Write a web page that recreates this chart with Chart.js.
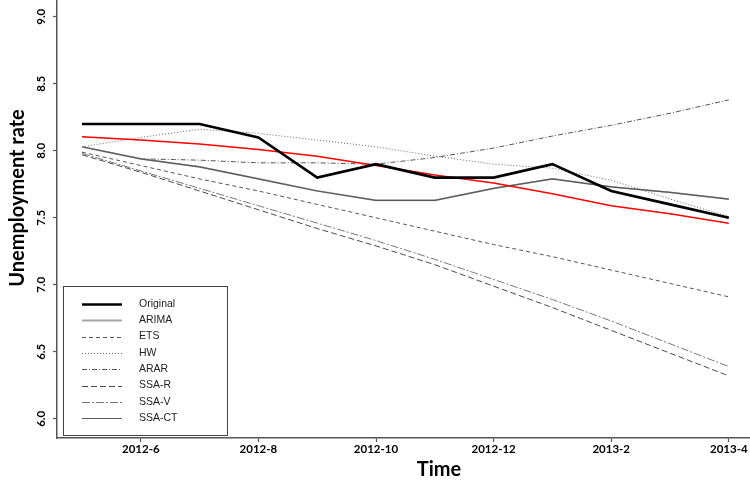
<!DOCTYPE html>
<html>
<head>
<meta charset="utf-8">
<script src="https://cdn.jsdelivr.net/npm/chart.js@4/dist/chart.umd.min.js"></script>
<style>
  body { margin: 0; background: #fff; }
  canvas { display: block; }
</style>
</head>
<body>
<canvas id="chart" width="750" height="485"></canvas>
<script>
// months from 2012-5 to 2013-4
const months = ['2012-5', '2012-6', '2012-7', '2012-8', '2012-9', '2012-10',
  '2012-11', '2012-12', '2013-1', '2013-2', '2013-3', '2013-4']
const xTickIdx = [1, 3, 5, 7, 9, 11]
const yTicks = [6.0, 6.5, 7.0, 7.5, 8.0, 8.5, 9.0]

const original = [8.2, 8.2, 8.2, 8.1, 7.8, 7.9, 7.8, 7.8, 7.9, 7.7, 7.6, 7.5]
const arima = [8.03, 7.94, 7.88, 7.79, 7.70, 7.63, 7.63, 7.72, 7.79, 7.73, 7.69, 7.64]
const ets = [7.99, 7.89, 7.79, 7.70, 7.60, 7.50, 7.40, 7.30, 7.21, 7.11, 7.01, 6.91]
const hw = [8.03, 8.10, 8.16, 8.13, 8.08, 8.03, 7.96, 7.90, 7.87, 7.78, 7.64, 7.51]
const arar = [8.03, 7.94, 7.93, 7.91, 7.91, 7.90, 7.95, 8.02, 8.11, 8.19, 8.28, 8.38]
const ssaR = [7.97, 7.84, 7.70, 7.56, 7.42, 7.29, 7.15, 6.99, 6.83, 6.66, 6.49, 6.32]
const ssaV = [7.98, 7.85, 7.72, 7.59, 7.46, 7.33, 7.19, 7.04, 6.89, 6.73, 6.56, 6.39]
const ssaCT = [8.03, 7.94, 7.88, 7.79, 7.70, 7.63, 7.63, 7.72, 7.79, 7.73, 7.69, 7.64]
const fitted = [8.105, 8.08, 8.05, 8.01, 7.96, 7.89, 7.82, 7.76, 7.68, 7.59, 7.53, 7.46]

const pts = (arr) => arr.map((v, i) => ({ x: i, y: v }))

const series = (label, data, color, width, dash, inLegend = true) => ({
  label: label,
  data: pts(data),
  borderColor: color,
  backgroundColor: color,
  borderWidth: width,
  borderDash: dash,
  pointRadius: 0,
  tension: 0,
  fill: false,
  inLegend: inLegend
})

// first dataset is drawn on top
const datasets = [
  series('Original', original, '#000000', 2.6, []),
  series('Fitted', fitted, '#ff0000', 1.5, [], false),
  series('SSA-CT', ssaCT, '#5a5a5a', 1.2, []),
  series('ARIMA', arima, '#a8a8a8', 1.8, []),
  series('ETS', ets, '#555555', 1, [4, 3]),
  series('HW', hw, '#666666', 1, [1, 2]),
  series('ARAR', arar, '#555555', 1, [5, 2, 1, 2]),
  series('SSA-R', ssaR, '#4a4a4a', 1, [6, 3]),
  series('SSA-V', ssaV, '#777777', 1, [8, 2, 2, 2])
]

const legendOrder = ['Original', 'ARIMA', 'ETS', 'HW', 'ARAR', 'SSA-R', 'SSA-V', 'SSA-CT']

const extras = {
  id: 'extras',
  afterDraw(chart) {
    const ctx = chart.ctx
    const ys = chart.scales.y
    ctx.save()
    ctx.fillStyle = '#000'

    // y tick labels, rotated like R's default
    ctx.font = 'bold 11.5px Lato'
    ctx.textAlign = 'center'
    ctx.textBaseline = 'middle'
    yTicks.forEach(v => {
      ctx.save()
      ctx.translate(41, ys.getPixelForValue(v))
      ctx.rotate(-Math.PI / 2)
      ctx.fillText(v.toFixed(1), 0, 0)
      ctx.restore()
    })

    // axis titles
    ctx.font = 'bold 20px Lato'
    ctx.save()
    ctx.translate(18, 198)
    ctx.rotate(-Math.PI / 2)
    ctx.fillText('Unemployment rate', 0, 0)
    ctx.restore()
    ctx.fillText('Time', 439, 470)

    // legend box
    ctx.strokeStyle = '#444'
    ctx.lineWidth = 1
    ctx.strokeRect(63.5, 286.5, 164, 149)
    ctx.font = '10.5px "Liberation Sans"'
    ctx.textAlign = 'left'
    ctx.fillStyle = '#222'
    legendOrder.forEach((name, i) => {
      const ds = chart.data.datasets.find(d => d.label === name)
      const y = 304 + i * 16.3
      ctx.beginPath()
      ctx.strokeStyle = ds.borderColor
      ctx.lineWidth = ds.borderWidth
      ctx.setLineDash(ds.borderDash)
      ctx.moveTo(82, Math.round(y) + 0.5)
      ctx.lineTo(122, Math.round(y) + 0.5)
      ctx.stroke()
      ctx.setLineDash([])
      ctx.fillText(name, 139, y)
    })
    ctx.restore()
  }
}

new Chart(document.getElementById('chart'), {
  type: 'line',
  data: { datasets: datasets },
  options: {
    responsive: false,
    animation: false,
    layout: { padding: 0 },
    plugins: {
      legend: { display: false },
      tooltip: { enabled: false }
    },
    scales: {
      x: {
        type: 'linear',
        min: -0.425,
        max: 11.36,
        afterBuildTicks: (axis) => { axis.ticks = xTickIdx.map(v => ({ value: v })) },
        afterFit: (axis) => { axis.height = 47 },
        border: { color: '#555', width: 1.5 },
        grid: { drawOnChartArea: false, tickLength: 4, tickColor: '#555', tickWidth: 1.2 },
        ticks: {
          autoSkip: false,
          maxRotation: 0,
          padding: 0,
          color: '#000',
          font: { family: 'Lato', weight: 'bold', size: 11.5 },
          callback: (v) => months[v]
        }
      },
      y: {
        min: 5.857,
        max: 9.125,
        afterBuildTicks: (axis) => { axis.ticks = yTicks.map(v => ({ value: v })) },
        afterFit: (axis) => { axis.width = 57 },
        border: { color: '#555', width: 1.5 },
        grid: { drawOnChartArea: false, tickLength: 4, tickColor: '#555', tickWidth: 1.2 },
        ticks: { display: false }
      }
    }
  },
  plugins: [extras]
})
</script>
</body>
</html>
